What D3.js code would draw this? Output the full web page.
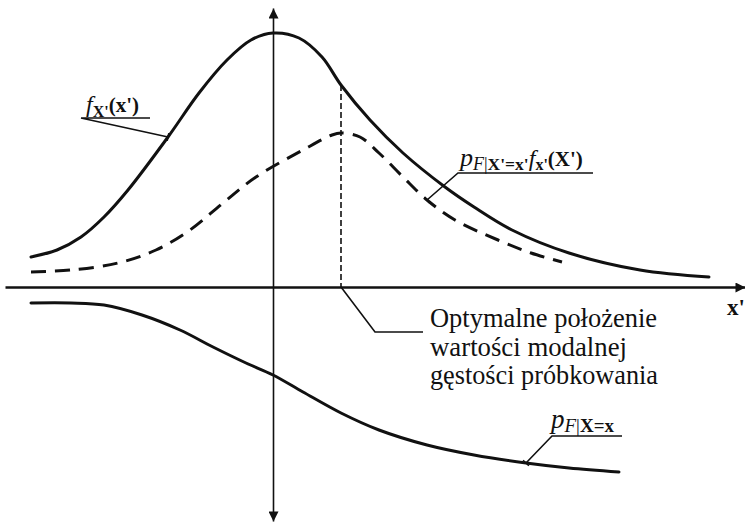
<!DOCTYPE html>
<html>
<head>
<meta charset="utf-8">
<script src="https://cdn.jsdelivr.net/npm/d3@7/dist/d3.min.js"></script>
<style>
  html, body { margin: 0; padding: 0; background: #fff; }
  svg { display: block; }
  text { font-family: "Liberation Serif", "Times New Roman", serif; fill: #111; }
</style>
</head>
<body>
<svg id="chart" width="745" height="523"></svg>
<script>
// Prior density f_X'(x')
const priorX = [-2.42, -2.16, -1.92, -1.69, -1.45, -1.05, -0.74, -0.46, -0.22, 0.0, 0.26, 0.49, 0.68, 0.97, 1.30, 1.72, 2.01, 2.39, 2.96, 3.67, 4.36];
const priorY = [0.30, 0.37, 0.50, 0.70, 0.97, 1.50, 1.94, 2.27, 2.47, 2.54, 2.49, 2.30, 2.02, 1.67, 1.34, 1.00, 0.80, 0.57, 0.34, 0.17, 0.10];

// Product p_F|X'=x' · f_X'(x')
const productX = [-2.42, -2.02, -1.55, -1.17, -0.83, -0.50, -0.17, 0.30, 0.59, 0.68, 0.87, 1.06, 1.30, 1.54, 1.82, 2.25, 2.58, 2.89];
const productY = [0.15, 0.17, 0.24, 0.37, 0.57, 0.84, 1.10, 1.37, 1.52, 1.54, 1.50, 1.34, 1.10, 0.87, 0.67, 0.47, 0.34, 0.25];

// Likelihood p_F|X=x, drawn below the axis
const likeX = [-2.42, -2.02, -1.69, -1.31, -0.93, -0.60, -0.27, 0.0, 0.30, 0.68, 1.06, 1.54, 2.01, 2.53, 2.96, 3.46];
const likeY = [-0.16, -0.16, -0.18, -0.28, -0.43, -0.60, -0.76, -0.88, -1.05, -1.26, -1.43, -1.58, -1.68, -1.76, -1.81, -1.85];

const modalText = ["Optymalne położenie", "wartości modalnej", "gęstości próbkowania"];
const modalWidth = [227, 197, 228];

const svg = d3.select("#chart");
const x = d3.scaleLinear().domain([-2.68, 4.72]).range([5, 745]);
const y = d3.scaleLinear().domain([-2.34, 2.79]).range([521, 8]);

// arrowheads
const defs = svg.append("defs");
defs.append("marker")
  .attr("id", "arrow")
  .attr("viewBox", "0 0 10 10")
  .attr("refX", 10).attr("refY", 5)
  .attr("markerUnits", "userSpaceOnUse")
  .attr("markerWidth", 12).attr("markerHeight", 10)
  .attr("orient", "auto-start-reverse")
  .append("path").attr("d", "M0,0L10,5L0,10z").attr("fill", "#111");

// horizontal axis x'
const gx = svg.append("g").attr("transform", `translate(0,${y(0)})`)
  .call(d3.axisBottom(x).ticks(0).tickSizeOuter(0));
gx.select(".domain").attr("stroke", "#111").attr("stroke-width", 2.4)
  .attr("marker-end", "url(#arrow)");

// vertical axis
const gy = svg.append("g").attr("transform", `translate(${x(0)},0)`)
  .call(d3.axisLeft(y).ticks(0).tickSizeOuter(0));
gy.select(".domain").attr("stroke", "#111").attr("stroke-width", 1.6)
  .attr("marker-start", "url(#arrow)").attr("marker-end", "url(#arrow)");

const line = d3.line().x(d => x(d[0])).y(d => y(d[1])).curve(d3.curveCatmullRom.alpha(0.5));
const prior = priorX.map((v, i) => [v, priorY[i]]);
const product = productX.map((v, i) => [v, productY[i]]);
const like = likeX.map((v, i) => [v, likeY[i]]);

svg.append("path").attr("d", line(prior)).attr("fill", "none")
  .attr("stroke", "#111").attr("stroke-width", 3).attr("stroke-linecap", "round");
svg.append("path").attr("d", line(product)).attr("fill", "none")
  .attr("stroke", "#111").attr("stroke-width", 3).attr("stroke-dasharray", "15 9");
svg.append("path").attr("d", line(like)).attr("fill", "none")
  .attr("stroke", "#111").attr("stroke-width", 3).attr("stroke-linecap", "round");

// mode of the product, dropped to the axis
const iMode = d3.maxIndex(productY);
const xMode = productX[iMode];
const iPriorAtMode = priorX.indexOf(xMode);
svg.append("line")
  .attr("x1", x(xMode)).attr("x2", x(xMode))
  .attr("y1", y(priorY[iPriorAtMode])).attr("y2", y(0))
  .attr("stroke", "#111").attr("stroke-width", 1.6).attr("stroke-dasharray", "6 3");

// leader helper: underline, slanted stem, small foot tick
function leader(px, py, ux1, ux2, uy) {
  svg.append("path")
    .attr("d", `M${ux2},${uy}H${ux1}L${px},${py}`)
    .attr("fill", "none").attr("stroke", "#111").attr("stroke-width", 1.6);
  const dx = px - ux1, dy = py - uy, len = Math.hypot(dx, dy);
  const nx = -dy / len * 4, ny = dx / len * 4;
  svg.append("line")
    .attr("x1", px - nx).attr("y1", py - ny).attr("x2", px + nx).attr("y2", py + ny)
    .attr("stroke", "#111").attr("stroke-width", 1.6);
}

// f_X'(x') label
{
  const p = prior[5];
  leader(x(p[0]), y(p[1]), 81, 150, 118);
  const t = svg.append("text").attr("x", 86).attr("y", 112);
  t.append("tspan").attr("font-style", "italic").attr("font-size", 24).text("f");
  t.append("tspan").attr("font-weight", "bold").attr("font-size", 16).attr("dy", 5).text("X'");
  t.append("tspan").attr("font-weight", "bold").attr("font-size", 21).attr("dy", -5).text("(x')");
}

// p_F|X'=x' f_X'(X') label
{
  const p = product[13];
  leader(x(p[0]), y(p[1]), 458, 593, 173);
  const t = svg.append("text").attr("x", 460).attr("y", 166);
  t.append("tspan").attr("font-style", "italic").attr("font-size", 26).text("p");
  t.append("tspan").attr("font-style", "italic").attr("font-size", 18).attr("dy", 4).text("F");
  t.append("tspan").attr("font-size", 18).text("|");
  t.append("tspan").attr("font-weight", "bold").attr("font-size", 17.5).text("X'=x'");
  t.append("tspan").attr("font-style", "italic").attr("font-size", 24).attr("dy", -4).text("f");
  t.append("tspan").attr("font-weight", "bold").attr("font-size", 16).attr("dy", 4).text("x'");
  t.append("tspan").attr("font-weight", "bold").attr("font-size", 21).attr("dy", -4).text("(X')");
}

// p_F|X=x label
{
  const p = like[13];
  leader(x(p[0]), y(p[1]), 552, 622, 436);
  const t = svg.append("text").attr("x", 551).attr("y", 428);
  t.append("tspan").attr("font-style", "italic").attr("font-size", 27).text("p");
  t.append("tspan").attr("font-style", "italic").attr("font-size", 19).attr("dy", 4).text("F");
  t.append("tspan").attr("font-size", 19).text("|");
  t.append("tspan").attr("font-weight", "bold").attr("font-size", 19).text("X=x");
}

// axis name
svg.append("text").attr("x", 727).attr("y", 315)
  .attr("font-weight", "bold").attr("font-size", 23).text("x'");

// mode annotation
svg.append("path")
  .attr("d", `M${x(xMode)},${y(0)}L375,332H423`)
  .attr("fill", "none").attr("stroke", "#111").attr("stroke-width", 1.6);
svg.append("g").selectAll("text").data(modalText).join("text")
  .attr("x", 430).attr("y", (d, i) => 327 + i * 28.5)
  .attr("font-size", 26.5)
  .attr("textLength", (d, i) => modalWidth[i])
  .attr("lengthAdjust", "spacingAndGlyphs")
  .text(d => d);
</script>
</body>
</html>
